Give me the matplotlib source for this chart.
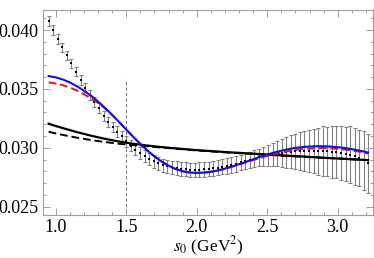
import numpy as np
import matplotlib
matplotlib.use('Agg')
from matplotlib import pyplot as plt
from matplotlib.ticker import MultipleLocator

plt.rcParams['font.family'] = ['Liberation Serif', 'DejaVu Serif']
plt.rcParams['mathtext.fontset'] = 'stix'

# lattice-like points with error bars
s0_pts = [0.950, 0.982, 1.015, 1.047, 1.080, 1.112, 1.144, 1.177, 1.209, 1.242,
          1.274, 1.306, 1.339, 1.371, 1.404, 1.436, 1.468, 1.501, 1.533, 1.565,
          1.598, 1.630, 1.663, 1.695, 1.727, 1.760, 1.792, 1.825, 1.857, 1.889,
          1.922, 1.954, 1.987, 2.019, 2.052, 2.084, 2.116, 2.149, 2.181, 2.214,
          2.246, 2.278, 2.311, 2.343, 2.376, 2.408, 2.440, 2.473, 2.505, 2.538,
          2.570, 2.602, 2.635, 2.667, 2.700, 2.732, 2.764, 2.797, 2.829, 2.862,
          2.894, 2.926, 2.959, 2.991, 3.024, 3.056, 3.088, 3.121, 3.153, 3.186,
          3.218]
val_pts = [0.04078, 0.04000, 0.03925, 0.03852, 0.03786, 0.03717, 0.03647, 0.03577, 0.03511, 0.03450,
           0.03392, 0.03335, 0.03272, 0.03222, 0.03180, 0.03138, 0.03096, 0.03055, 0.03018, 0.02985,
           0.02955, 0.02928, 0.02904, 0.02884, 0.02867, 0.02853, 0.02842, 0.02833, 0.02826, 0.02820,
           0.02816, 0.02814, 0.02813, 0.02814, 0.02816, 0.02819, 0.02824, 0.02830, 0.02837, 0.02845,
           0.02854, 0.02864, 0.02875, 0.02886, 0.02897, 0.02908, 0.02918, 0.02928, 0.02936, 0.02944,
           0.02951, 0.02957, 0.02962, 0.02966, 0.02969, 0.02971, 0.02972, 0.02973, 0.02973, 0.02972,
           0.02971, 0.02969, 0.02966, 0.02962, 0.02957, 0.02950, 0.02941, 0.02928, 0.02912, 0.02893,
           0.02870]
err_pts = [0.00040, 0.00040, 0.00040, 0.00040, 0.00040, 0.00040, 0.00040, 0.00041, 0.00041, 0.00041,
           0.00042, 0.00042, 0.00042, 0.00043, 0.00043, 0.00044, 0.00044, 0.00045, 0.00046, 0.00047,
           0.00048, 0.00050, 0.00051, 0.00052, 0.00054, 0.00055, 0.00056, 0.00057, 0.00058, 0.00059,
           0.00060, 0.00060, 0.00061, 0.00061, 0.00062, 0.00062, 0.00063, 0.00063, 0.00064, 0.00064,
           0.00065, 0.00066, 0.00067, 0.00068, 0.00069, 0.00070, 0.00075, 0.00080, 0.00090, 0.00100,
           0.00110, 0.00120, 0.00130, 0.00140, 0.00150, 0.00160, 0.00170, 0.00180, 0.00190, 0.00200,
           0.00210, 0.00210, 0.00220, 0.00220, 0.00230, 0.00230, 0.00240, 0.00240, 0.00240, 0.00250,
           0.00250]

# curves
s0_line = [0.95, 1.0, 1.05, 1.1, 1.15, 1.2, 1.25, 1.3, 1.35, 1.4, 1.45, 1.5, 1.55, 1.6,
           1.65, 1.7, 1.75, 1.8, 1.85, 1.9, 1.95, 2.0, 2.05, 2.1, 2.15, 2.2, 2.25, 2.3,
           2.35, 2.4, 2.45, 2.5, 2.55, 2.6, 2.65, 2.7, 2.75, 2.8, 2.85, 2.9, 2.95, 3.0,
           3.05, 3.1, 3.15, 3.2, 3.215]
blue = [0.03609, 0.03598, 0.03580, 0.03555, 0.03523, 0.03485, 0.03442, 0.03393, 0.03338, 0.03280,
        0.03218, 0.03155, 0.03093, 0.03033, 0.02977, 0.02927, 0.02884, 0.02848, 0.02820, 0.02801,
        0.02790, 0.02787, 0.02789, 0.02796, 0.02808, 0.02823, 0.02841, 0.02861, 0.02881, 0.02902,
        0.02923, 0.02942, 0.02960, 0.02975, 0.02988, 0.02999, 0.03006, 0.03011, 0.03013, 0.03013,
        0.03010, 0.03005, 0.02998, 0.02988, 0.02977, 0.02964, 0.02960]
red = [0.03555, 0.03546, 0.03532, 0.03512, 0.03486, 0.03455, 0.03420, 0.03381, 0.03333, 0.03278,
       0.03217, 0.03154, 0.03092, 0.03032, 0.02976, 0.02926, 0.02883, 0.02847, 0.02819, 0.02800,
       0.02789, 0.02786, 0.02788, 0.02795, 0.02806, 0.02821, 0.02838, 0.02857, 0.02876, 0.02895,
       0.02913, 0.02930, 0.02946, 0.02960, 0.02972, 0.02982, 0.02989, 0.02994, 0.02997, 0.02997,
       0.02995, 0.02991, 0.02985, 0.02977, 0.02967, 0.02955, 0.02951]
black = [0.03204, 0.03185, 0.03167, 0.03150, 0.03133, 0.03118, 0.03103, 0.03089, 0.03076, 0.03064,
         0.03053, 0.03043, 0.03034, 0.03026, 0.03019, 0.03012, 0.03006, 0.03000, 0.02995, 0.02990,
         0.02985, 0.02980, 0.02976, 0.02972, 0.02968, 0.02964, 0.02960, 0.02957, 0.02953, 0.02950,
         0.02946, 0.02943, 0.02939, 0.02936, 0.02932, 0.02929, 0.02926, 0.02922, 0.02919, 0.02915,
         0.02912, 0.02909, 0.02906, 0.02902, 0.02899, 0.02896, 0.02895]
black_dash = [0.03136, 0.03122, 0.03109, 0.03097, 0.03086, 0.03076, 0.03066, 0.03057, 0.03049, 0.03041,
              0.03034, 0.03028, 0.03022, 0.03017, 0.03012, 0.03007, 0.03002, 0.02997, 0.02992, 0.02987,
              0.02982, 0.02977, 0.02973, 0.02969, 0.02965, 0.02961, 0.02957, 0.02954, 0.02950, 0.02947,
              0.02943, 0.02940, 0.02937, 0.02933, 0.02930, 0.02927, 0.02924, 0.02921, 0.02918, 0.02915,
              0.02912, 0.02909, 0.02906, 0.02902, 0.02899, 0.02896, 0.02895]

fig = plt.figure(figsize=(3.74, 2.58), dpi=100)
ax = fig.add_axes([43/374, 43/258, 330/374, 205/258])

ax.errorbar(s0_pts, val_pts, yerr=err_pts, fmt='none', ecolor='#808080',
            elinewidth=0.8, capsize=1.3, capthick=0.8, zorder=1)
ax.plot(s0_pts, val_pts, 's', color='black', ms=2.0, mew=0, zorder=2)

ax.plot([1.5, 1.5], [0.0240, 0.0358], color='#808080', lw=0.8, ls=(0, (3, 2)), zorder=1)

ax.plot(s0_line, black, color='black', lw=1.6, zorder=3)
ax.plot(s0_line, black_dash, color='black', lw=1.4, ls=(0, (4, 2)), zorder=3)
ax.plot(s0_line, red, color='#e8101a', lw=1.4, ls=(0, (4, 2)), zorder=4)
ax.plot(s0_line, blue, color='#1010e8', lw=1.5, zorder=5)

ax.set_xlim(0.91, 3.25)
ax.set_ylim(0.02429, 0.0417)
ax.xaxis.set_major_locator(MultipleLocator(0.5))
ax.xaxis.set_minor_locator(MultipleLocator(0.1))
ax.yaxis.set_major_locator(MultipleLocator(0.005))
ax.yaxis.set_minor_locator(MultipleLocator(0.001))
ax.set_xticks([1.0, 1.5, 2.0, 2.5, 3.0])
ax.set_xticklabels(['1.0', '1.5', '2.0', '2.5', '3.0'])
ax.set_yticks([0.025, 0.030, 0.035, 0.040])
ax.set_yticklabels(['0.025', '0.030', '0.035', '0.040'])

for sp in ax.spines.values():
    sp.set_color('#a0a0a0')
    sp.set_linewidth(0.8)
ax.tick_params(which='both', direction='in', top=True, right=True, color='#a0a0a0',
               labelsize=13, width=0.7)
ax.tick_params(which='major', length=5, pad=3)
ax.tick_params(which='minor', length=2.5)

ax.set_xlabel(r'$s_0$ (GeV$^2$)', fontsize=12.5, labelpad=-1)

fig.savefig('out.png', dpi=100)
